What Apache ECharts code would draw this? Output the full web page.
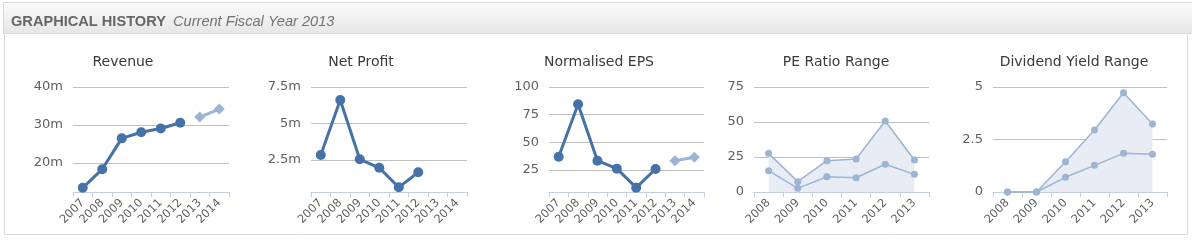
<!DOCTYPE html>
<html><head><meta charset="utf-8">
<script src="https://cdn.jsdelivr.net/npm/echarts@6/dist/echarts.min.js"></script>
<style>html,body{margin:0;padding:0;background:#fff}#c{width:1192px;height:240px}</style>
</head><body><div id="c"></div>
<script>
// ---- data ----
const years8 = ['2007','2008','2009','2010','2011','2012','2013','2014'];
const years6 = ['2008','2009','2010','2011','2012','2013'];
const revenueActual   = [13.5, 18.4, 26.5, 28.1, 29.1, 30.6, null, null];
const revenueForecast = [null, null, null, null, null, null, 32.1, 34.2];
const netProfit       = [2.84, 6.61, 2.55, 1.97, 0.63, 1.66, null, null];
const epsActual       = [37.0, 84.4, 33.4, 26.2, 9.0, 25.9, null, null];
const epsForecast     = [null, null, null, null, null, null, 33.4, 36.5];
const peHigh = [27.6, 7.4, 22.4, 23.6, 50.7, 22.9];
const peLow  = [15.2, 2.6, 10.9, 10.2, 19.8, 12.6];
const dyHigh = [0, 0, 1.44, 2.95, 4.73, 3.24];
const dyLow  = [0, 0, 0.70, 1.27, 1.84, 1.80];
const chartTitles = ['Revenue', 'Net Profit', 'Normalised EPS', 'PE Ratio Range', 'Dividend Yield Range'];
const headerBold = 'GRAPHICAL HISTORY';
const headerItalic = 'Current Fiscal Year 2013';
// axis ranges: [min, max, step, suffix]
const yRanges = [[12.4, 40, 10, 'm'], [0.31, 7.5, 2.5, 'm'], [5.1, 100, 25, ''], [0, 75, 25, ''], [0, 5, 2.5, '']];

// ---- layout/style ----
const grids = [
  {left: 73, width: 156}, {left: 311, width: 156}, {left: 549, width: 155},
  {left: 754, width: 175}, {left: 993, width: 174}
];
const titleCenters = [123, 361, 599, 836, 1074];
const MAIN = '#4572A7', LIGHT = '#9DB4D3', FILL = '#E8EDF5';
const FONT = 'DejaVu Sans';

const chart = echarts.init(document.getElementById('c'), null, {renderer: 'canvas'});

const xCats = [years8, years8, years8, years6, years6];
const option = {
  animation: false,
  grid: grids.map(g => ({left: g.left, width: g.width, top: 87, height: 105, containLabel: false})),
  xAxis: xCats.map((cats, i) => ({
    type: 'category', gridIndex: i, data: cats, boundaryGap: true,
    axisLine: {lineStyle: {color: '#C0D0E0', width: 1}},
    axisTick: {show: true, length: 5, lineStyle: {color: '#C0D0E0'}},
    axisLabel: {rotate: 45, interval: 0, margin: 9, color: '#5F5F5F', fontFamily: FONT, fontSize: 11.5},
    splitLine: {show: false}
  })),
  yAxis: yRanges.map((r, i) => ({
    type: 'value', gridIndex: i, min: r[0], max: r[1], minInterval: r[2], maxInterval: r[2],
    axisLine: {show: false}, axisTick: {show: false},
    axisLabel: {margin: 10, color: '#5F5F5F', fontFamily: FONT, fontSize: 13,
      showMinLabel: r[0] === 0, formatter: v => v + r[3]},
    splitLine: {show: true, showMinLine: false, lineStyle: {color: '#C0C0C0', width: 1}}
  })),
  series: [
    mainLine(0, revenueActual), foreLine(0, revenueForecast),
    mainLine(1, netProfit),
    mainLine(2, epsActual), foreLine(2, epsForecast),
    rangeLine(3, peHigh, true), rangeLine(3, peLow, false),
    rangeLine(4, dyHigh, true), rangeLine(4, dyLow, false)
  ],
  graphic: [
    {type: 'rect', z: -10, shape: {x: 3.5, y: 2.5, width: 1189, height: 31},
      style: {fill: new echarts.graphic.LinearGradient(0, 0, 0, 1, [{offset: 0, color: '#FBFBFB'}, {offset: 1, color: '#E6E6E6'}]), stroke: '#D9D9D9', lineWidth: 1}},
    {type: 'rect', z: -10, shape: {x: 4.5, y: 33.5, width: 1183, height: 201},
      style: {fill: '#fff', stroke: '#DADADA', lineWidth: 1}},
    {type: 'text', x: 11, y: 22, style: {text: headerBold, fill: '#666', font: 'bold 14.6px "Liberation Sans", Arial', verticalAlign: 'middle'}},
    {type: 'text', x: 173, y: 22, style: {text: headerItalic, fill: '#737373', font: 'italic 14.6px "Liberation Sans", Arial', verticalAlign: 'middle'}}
  ].concat(chartTitles.map((t, i) => ({
    type: 'text', x: titleCenters[i], y: 62,
    style: {text: t, fill: '#3A3A3A', font: '14px "DejaVu Sans"', align: 'center', verticalAlign: 'middle'}
  })))
};

function mainLine(i, data) {
  return {type: 'line', xAxisIndex: i, yAxisIndex: i, data: data, symbol: 'circle', symbolSize: 10,
    lineStyle: {color: MAIN, width: 3}, itemStyle: {color: MAIN}, connectNulls: false, emphasis: {disabled: true}};
}
function foreLine(i, data) {
  return {type: 'line', xAxisIndex: i, yAxisIndex: i, data: data, symbol: 'diamond', symbolSize: 11,
    lineStyle: {color: LIGHT, width: 3}, itemStyle: {color: LIGHT}, connectNulls: false, emphasis: {disabled: true}};
}
function rangeLine(i, data, filled) {
  const s = {type: 'line', xAxisIndex: i, yAxisIndex: i, data: data, symbol: 'circle', symbolSize: 7,
    lineStyle: {color: LIGHT, width: 1.5}, itemStyle: {color: LIGHT}, emphasis: {disabled: true}, z: filled ? 2 : 3};
  if (filled) s.areaStyle = {color: FILL, opacity: 1};
  return s;
}
chart.setOption(option);
</script></body></html>
